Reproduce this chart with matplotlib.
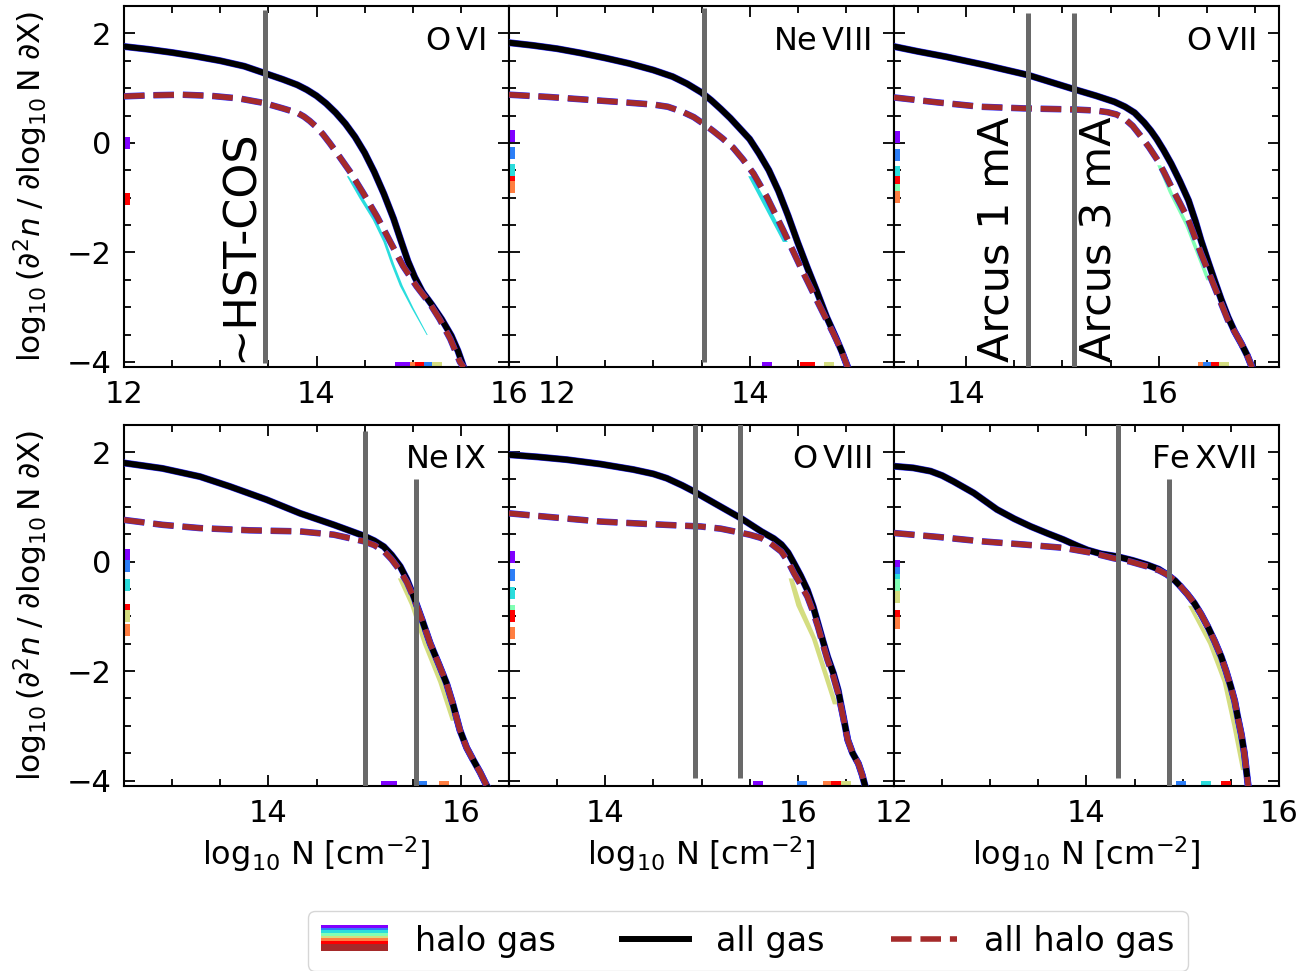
import numpy as np
import matplotlib
matplotlib.use("Agg")
import matplotlib.pyplot as plt
from matplotlib.ticker import MultipleLocator
import matplotlib.patheffects as pe
from matplotlib.legend_handler import HandlerBase
from matplotlib.patches import Rectangle
from matplotlib.lines import Line2D
from matplotlib.gridspec import GridSpec

# ---------------- data ----------------
ions = ["O VI", "Ne VIII", "O VII", "Ne IX", "O VIII", "Fe XVII"]
ion_labels = [r"$\mathrm{O\,VI}$", r"$\mathrm{Ne\,VIII}$", r"$\mathrm{O\,VII}$",
              r"$\mathrm{Ne\,IX}$", r"$\mathrm{O\,VIII}$", r"$\mathrm{Fe\,XVII}$"]
xlims = [(12.0, 16.0), (11.5, 15.5), (13.25, 17.25), (12.5, 16.5), (13.0, 17.0), (12.0, 16.0)]

# all gas
N_all_ovi = [12.0, 12.25, 12.5, 12.75, 13.0, 13.25, 13.5, 13.65, 13.8, 13.9, 14.0, 14.1, 14.2, 14.3,
             14.4, 14.5, 14.6, 14.7, 14.8, 14.88, 14.95, 15.02, 15.1, 15.2, 15.3, 15.4, 15.47, 15.53]
all_ovi = [1.76, 1.71, 1.65, 1.58, 1.50, 1.40, 1.25, 1.16, 1.06, 0.97, 0.86, 0.72, 0.55, 0.35,
           0.11, -0.18, -0.53, -0.93, -1.38, -1.80, -2.16, -2.45, -2.72, -2.96, -3.22, -3.52,
           -3.80, -4.10]
N_halo_ovi = [12.0, 12.3, 12.6, 12.9, 13.2, 13.45, 13.65, 13.8, 13.87, 13.93, 14.0, 14.07, 14.14,
              14.21, 14.35, 14.49, 14.63, 14.77, 14.9, 15.04, 15.18, 15.28, 15.39, 15.49, 15.53]
halo_ovi = [0.85, 0.87, 0.88, 0.86, 0.81, 0.73, 0.63, 0.55, 0.48, 0.40, 0.29, 0.15, -0.01,
            -0.18, -0.53, -0.93, -1.35, -1.82, -2.25, -2.62, -2.94, -3.22, -3.58, -4.00, -4.10]

N_all_ne8 = [11.5, 11.75, 12.0, 12.25, 12.5, 12.75, 13.0, 13.2, 13.35, 13.5, 13.6, 13.7, 13.8, 13.9,
             14.0, 14.1, 14.2, 14.3, 14.4, 14.5, 14.6, 14.7, 14.8, 14.9, 14.96, 15.02]
all_ne8 = [1.83, 1.78, 1.72, 1.64, 1.55, 1.45, 1.33, 1.21, 1.08, 0.92, 0.78, 0.62, 0.45, 0.26,
           0.07, -0.20, -0.50, -0.88, -1.33, -1.82, -2.28, -2.72, -3.18, -3.57, -3.82, -4.10]
N_halo_ne8 = [11.5, 11.9, 12.3, 12.7, 13.0, 13.15, 13.3, 13.42, 13.52, 13.62, 13.72, 13.83, 13.93,
              14.04, 14.18, 14.35, 14.53, 14.70, 14.87, 14.95, 15.02]
halo_ne8 = [0.88, 0.84, 0.79, 0.74, 0.70, 0.66, 0.57, 0.47, 0.35, 0.22, 0.08, -0.09, -0.30,
            -0.56, -0.99, -1.60, -2.27, -2.88, -3.48, -3.78, -4.10]

N_all_o7 = [13.25, 13.5, 13.8, 14.2, 14.64, 15.12, 15.35, 15.54, 15.65, 15.75, 15.85, 15.92, 15.98,
            16.05, 16.13, 16.22, 16.31, 16.38, 16.44, 16.51, 16.58, 16.65, 16.72, 16.79, 16.86,
            16.92, 16.97]
all_o7 = [1.76, 1.67, 1.57, 1.42, 1.24, 0.98, 0.86, 0.75, 0.66, 0.55, 0.37, 0.22, 0.07,
          -0.13, -0.38, -0.70, -1.05, -1.42, -1.78, -2.15, -2.51, -2.86, -3.18, -3.45, -3.67,
          -3.88, -4.10]
N_halo_o7 = [13.25, 13.7, 14.15, 14.6, 15.12, 15.35, 15.47, 15.56, 15.64, 15.73, 15.82, 15.9, 15.99,
             16.06, 16.13, 16.22, 16.31, 16.44, 16.58, 16.72, 16.79, 16.86, 16.92, 16.97]
halo_o7 = [0.83, 0.74, 0.66, 0.63, 0.61, 0.59, 0.56, 0.52, 0.45, 0.31, 0.11, -0.08, -0.32,
           -0.55, -0.80, -1.10, -1.41, -2.02, -2.63, -3.24, -3.45, -3.67, -3.88, -4.10]

N_all_ne9 = [12.5, 12.9, 13.29, 13.6, 13.98, 14.33, 14.68, 14.99, 15.1, 15.2, 15.28, 15.37, 15.44,
             15.51, 15.6, 15.68, 15.77, 15.85, 15.92, 15.99, 16.06, 16.13, 16.2, 16.27]
all_ne9 = [1.80, 1.70, 1.55, 1.37, 1.13, 0.88, 0.67, 0.47, 0.38, 0.27, 0.12, -0.09, -0.33,
           -0.64, -1.08, -1.49, -1.87, -2.22, -2.62, -3.08, -3.40, -3.63, -3.85, -4.10]
N_halo_ne9 = [12.5, 12.9, 13.29, 13.8, 14.33, 14.68, 14.99, 15.1, 15.2, 15.28, 15.37, 15.44, 15.51,
              15.6, 15.68, 15.77, 15.85, 15.92, 15.99, 16.06, 16.13, 16.2, 16.27]
halo_ne9 = [0.76, 0.67, 0.61, 0.57, 0.55, 0.49, 0.37, 0.30, 0.19, 0.04, -0.17, -0.38, -0.66,
            -1.08, -1.49, -1.87, -2.22, -2.62, -3.08, -3.40, -3.63, -3.85, -4.10]

N_all_o8 = [13.0, 13.3, 13.6, 13.95, 14.29, 14.5, 14.64, 14.8, 14.92, 15.16, 15.41, 15.62, 15.75,
            15.83, 15.9, 15.96, 16.03, 16.10, 16.16, 16.21, 16.26, 16.31, 16.37, 16.42, 16.47,
            16.52, 16.57, 16.63, 16.67, 16.70]
all_o8 = [1.95, 1.91, 1.86, 1.78, 1.68, 1.60, 1.52, 1.39, 1.28, 1.04, 0.79, 0.55, 0.42,
          0.31, 0.16, -0.03, -0.26, -0.52, -0.82, -1.13, -1.44, -1.74, -2.04, -2.35, -2.80,
          -3.26, -3.50, -3.69, -3.90, -4.10]
N_halo_o8 = [13.0, 13.5, 13.95, 14.5, 14.99, 15.2, 15.34, 15.5, 15.62, 15.72, 15.83, 15.9, 15.96,
             16.03, 16.10, 16.16, 16.21, 16.26, 16.31, 16.37, 16.42, 16.47, 16.52, 16.57, 16.63,
             16.67, 16.70]
halo_o8 = [0.88, 0.80, 0.73, 0.68, 0.64, 0.60, 0.55, 0.49, 0.43, 0.33, 0.18, 0.00, -0.21,
           -0.42, -0.64, -0.92, -1.19, -1.50, -1.80, -2.10, -2.41, -2.83, -3.26, -3.50, -3.69,
           -3.90, -4.10]

N_all_fe17 = [12.0, 12.2, 12.38, 12.5, 12.62, 12.72, 12.83, 12.95, 13.07, 13.25, 13.42, 13.6, 13.76,
              13.9, 14.01, 14.15, 14.32, 14.48, 14.63, 14.75, 14.84, 14.92, 14.98, 15.05, 15.12,
              15.19, 15.26, 15.33, 15.40, 15.45, 15.50, 15.54, 15.57, 15.61, 15.64, 15.66, 15.68]
all_fe17 = [1.74, 1.71, 1.65, 1.57, 1.46, 1.36, 1.25, 1.10, 0.95, 0.78, 0.64, 0.51, 0.40,
            0.29, 0.21, 0.14, 0.09, 0.02, -0.06, -0.14, -0.24, -0.35, -0.46, -0.60, -0.76,
            -0.96, -1.19, -1.45, -1.74, -2.00, -2.29, -2.55, -2.83, -3.17, -3.50, -3.80, -4.10]
N_halo_fe17 = [12.0, 12.45, 12.9, 13.35, 13.76, 14.05, 14.28, 14.45, 14.63, 14.75, 14.84, 14.92,
               14.98, 15.05, 15.12, 15.19, 15.26, 15.33, 15.40, 15.45, 15.50, 15.54, 15.57, 15.61,
               15.64, 15.66, 15.68]
halo_fe17 = [0.52, 0.45, 0.37, 0.31, 0.25, 0.16, 0.06, 0.00, -0.09, -0.16, -0.24, -0.35,
             -0.46, -0.60, -0.76, -0.96, -1.19, -1.45, -1.74, -2.00, -2.29, -2.55, -2.83, -3.17,
             -3.50, -3.80, -4.10]

N_all = [N_all_ovi, N_all_ne8, N_all_o7, N_all_ne9, N_all_o8, N_all_fe17]
vals_all = [all_ovi, all_ne8, all_o7, all_ne9, all_o8, all_fe17]
N_halo = [N_halo_ovi, N_halo_ne8, N_halo_o7, N_halo_ne9, N_halo_o8, N_halo_fe17]
vals_halo = [halo_ovi, halo_ne8, halo_o7, halo_ne9, halo_o8, halo_fe17]

# halo-mass-bin pieces (colour index into rainbow, value)
edge_bins = [
    [(0, -0.01), (6, -1.03)],
    [(0, 0.12), (1, -0.19), (2, -0.50), (6, -0.72), (5, -0.80)],
    [(0, 0.11), (1, -0.22), (2, -0.53), (6, -0.71), (3, -0.86), (5, -0.99)],
    [(0, 0.12), (1, -0.09), (2, -0.43), (6, -0.88), (4, -1.00), (5, -1.25)],
    [(0, 0.09), (1, -0.24), (2, -0.58), (3, -0.91), (6, -1.00), (5, -1.30)],
    [(0, -0.09), (1, -0.21), (2, -0.33), (3, -0.43), (4, -0.64), (6, -1.00), (5, -1.13)],
]
floor_bins = [
    [(0, 14.87), (0, 14.95), (5, 15.02), (6, 15.08), (1, 15.17), (4, 15.25)],
    [(0, 14.18), (6, 14.58), (6, 14.63), (4, 14.82)],
    [(5, 16.46), (1, 16.51), (6, 16.60), (6, 16.64), (4, 16.68)],
    [(0, 15.22), (0, 15.28), (1, 15.60), (5, 15.82)],
    [(0, 15.59), (1, 16.04), (5, 16.31), (6, 16.40), (4, 16.50)],
    [(1, 14.98), (2, 15.24), (6, 15.45)],
]
sliver_color = [2, 2, 3, 4, 4, 4]
sliver_y = [
    [-0.60, -1.00, -1.40, -1.80, -2.20, -2.60, -3.00, -3.50],
    [-0.60, -1.00, -1.40, -1.80],
    [-0.40, -0.90, -1.50, -2.00, -2.50],
    [-0.30, -0.80, -1.50, -2.20, -2.90],
    [-0.30, -0.80, -1.40, -2.00, -2.60],
    [-0.80, -1.50, -2.20, -3.00, -3.80],
]
sliver_xl = [
    [14.31, 14.44, 14.58, 14.69, 14.77, 14.86, 14.98, 15.14],
    [13.98, 14.10, 14.22, 14.34],
    [15.98, 16.10, 16.27, 16.38, 16.49],
    [15.34, 15.47, 15.60, 15.76, 15.89],
    [15.90, 15.98, 16.14, 16.25, 16.36],
    [15.05, 15.26, 15.41, 15.51, 15.60],
]
sliver_xr = [
    [14.33, 14.48, 14.62, 14.72, 14.80, 14.89, 15.00, 15.15],
    [14.02, 14.15, 14.27, 14.39],
    [16.02, 16.14, 16.31, 16.42, 16.53],
    [15.39, 15.52, 15.65, 15.81, 15.93],
    [15.95, 16.04, 16.19, 16.30, 16.41],
    [15.09, 15.31, 15.46, 15.56, 15.63],
]

# observational limits: (x, y_low, y_high)
obs_lines = [
    [(13.47, -4.02, 2.43)],
    [(13.53, -4.00, 2.46)],
    [(14.645, -4.2, 2.37), (15.115, -4.2, 2.37)],
    [(15.00, -4.2, 2.38), (15.53, -4.2, 1.51)],
    [(14.93, -3.96, 2.6), (15.40, -3.96, 2.6)],
    [(14.33, -3.96, 2.6), (14.86, -4.2, 1.51)],
]
# text labels: (x, y, text, ha, size)
obs_texts = [
    [(13.43, -4.0, "~HST-COS", "right", 32)],
    [],
    [(14.53, -4.0, "Arcus 1 mA", "right", 31), (15.17, -4.0, "Arcus 3 mA", "left", 31)],
    [], [], [],
]

ylims = (-4.1, 2.5)
legend_labels = ["halo gas", "all gas", "all halo gas"]

# ---------------- styling ----------------
rainbow = plt.cm.rainbow(np.linspace(0, 1, 7))
brown = "#a52a2a"
grey = "#696969"
outline = "#2d2dff"

fig = plt.figure(figsize=(13.05, 9.71), dpi=100)
gs = GridSpec(2, 3, figure=fig, left=124 / 1305, right=1279 / 1305, top=1 - 6 / 971,
              bottom=1 - 786 / 971, hspace=57.3 / 361.7, wspace=0.0)

for i in range(6):
    r, c = divmod(i, 3)
    ax = fig.add_subplot(gs[r, c])
    ax.set_xlim(*xlims[i])
    ax.set_ylim(*ylims)
    x0 = xlims[i][0]

    # halo-mass-bin pieces
    ax.fill_betweenx(sliver_y[i], sliver_xl[i], sliver_xr[i], color=rainbow[sliver_color[i]],
                     lw=0, zorder=2)
    for ci, v in edge_bins[i]:
        ax.plot([x0], [v], marker="s", ms=9, mew=0, color=rainbow[ci], zorder=2)
    for ci, xv in floor_bins[i]:
        ax.plot([xv], [ylims[0]], marker="s", ms=7, mew=0, color=rainbow[ci], zorder=2)

    ax.plot(N_all[i], vals_all[i], color="black", lw=4.3, zorder=4,
            solid_joinstyle="round",
            path_effects=[pe.Stroke(linewidth=5.0, foreground=outline), pe.Normal()])
    ax.plot(N_halo[i], vals_halo[i], color=brown, lw=4.0, ls="--", zorder=5,
            path_effects=[pe.Stroke(linewidth=4.7, foreground=outline), pe.Normal()])

    for (xv, lo, hi) in obs_lines[i]:
        ax.plot([xv, xv], [lo, hi], color=grey, lw=3.6, zorder=6, solid_capstyle="butt")
    for (xv, yv, t, ha, fs) in obs_texts[i]:
        ax.text(xv, yv, t, rotation=90, ha=ha, va="bottom", fontsize=fs, zorder=7)

    ax.text(0.94, 0.945, ion_labels[i], transform=ax.transAxes, ha="right", va="top",
            fontsize=23, zorder=8)

    ax.xaxis.set_major_locator(MultipleLocator(2))
    ax.xaxis.set_minor_locator(MultipleLocator(0.5))
    ax.yaxis.set_major_locator(MultipleLocator(2))
    ax.yaxis.set_minor_locator(MultipleLocator(0.5))
    ax.tick_params(which="both", direction="in", top=True, right=True, labelsize=22, pad=9,
                   width=1.3)
    ax.tick_params(which="major", length=8)
    ax.tick_params(which="minor", length=5)
    for s in ax.spines.values():
        s.set_linewidth(1.5)
    if c != 0:
        ax.tick_params(labelleft=False)
    else:
        ax.set_ylabel(r"$\log_{10}(\partial^2 n\;/\;\partial\log_{10}\mathrm{N}\;\partial \mathrm{X})$",
                      fontsize=22.5, labelpad=12)
    if r == 1:
        ax.set_xlabel(r"$\log_{10}\,\mathrm{N}\;[\mathrm{cm}^{-2}]$", fontsize=23)
        ax.xaxis.set_label_coords(0.5, -0.135)


class RainbowKey:
    pass


class RainbowHandler(HandlerBase):
    def create_artists(self, legend, orig_handle, xdescent, ydescent, width, height,
                       fontsize, trans):
        cols = list(rainbow) + [brown]
        w = [1, 1, 1, 1, 1, 1, 1, 2.5]
        tot = sum(w)
        arts = []
        hh = height * 1.1
        y = -ydescent + hh
        for col, wi in zip(cols, w):
            h = hh * wi / tot
            y -= h
            rect = Rectangle((-xdescent, y), width, h, facecolor=col, edgecolor="none",
                             transform=trans)
            arts.append(rect)
        return arts


handles = [RainbowKey(),
           Line2D([], [], color="black", lw=4.3),
           Line2D([], [], color=brown, lw=4.0, ls="--")]
fig.legend(handles, legend_labels, handler_map={RainbowKey: RainbowHandler()},
           loc="center", bbox_to_anchor=(748 / 1305, 1 - 941 / 971), ncol=3, fontsize=24,
           frameon=True)

fig.savefig("out.png", dpi=100)
